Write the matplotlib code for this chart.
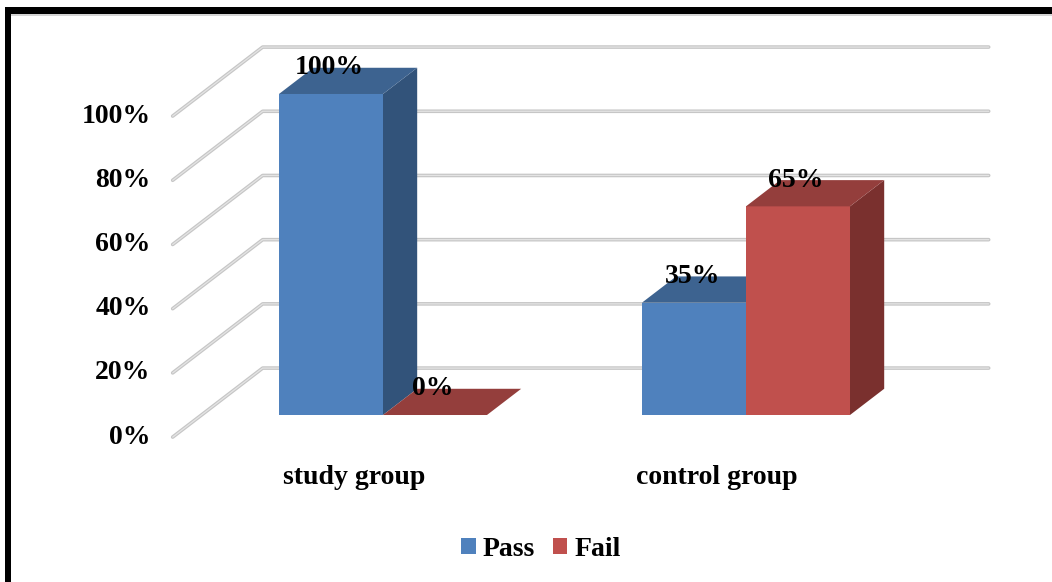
import matplotlib
matplotlib.use("Agg")
import matplotlib.pyplot as plt
from matplotlib.patches import Polygon, Patch, Rectangle

# ---- data ----
categories = ["study group", "control group"]
series_names = ["Pass", "Fail"]
pass_pct = [100, 35]
fail_pct = [0, 65]
y_ticks = [0, 20, 40, 60, 80, 100]
y_tick_labels = ["0%", "20%", "40%", "60%", "80%", "100%"]

# ---- styling ----
FONT = dict(family="Liberation Serif", weight="bold", size=20)
face_colors = {
    "Pass": ("#4F81BD", "#3D6390", "#32537A"),  # front, top, side
    "Fail": ("#C0504D", "#943E3C", "#7A302E"),
}

W, H = 1052, 582
fig = plt.figure(figsize=(W / 100, H / 100), dpi=100)
ax = fig.add_axes([0, 0, 1, 1])
ax.set_xlim(-1.055, 1.843)
ax.set_ylim(-52.02, 129.28)
ax.axis("off")

# oblique projection: depth d runs from floor front (0) to back wall (1)
DX, DY = 0.248, 21.5
D_FRONT, D_BACK = 0.32, 0.70
BAR_W = 0.2865


def proj(x, v, d):
    return (x + (d - D_FRONT) * DX, v + (d - D_FRONT) * DY)


# gridlines: diagonal on the side wall, then horizontal along the back wall
for v in y_ticks:
    pts = [proj(-0.5, v, 0), proj(-0.5, v, 1), proj(1.5, v, 1)]
    xs, ys = zip(*pts)
    ax.plot(xs, ys, color="#c6c6c6", lw=2.6, solid_capstyle="round", zorder=1)
    ax.plot(xs, ys, color="#e4e4e4", lw=0.9, solid_capstyle="round", zorder=1)

# tick labels at the front edge
for v, lab in zip(y_ticks, y_tick_labels):
    x, y = proj(-0.5, v, 0)
    ax.text(x - 22 / 363, y, lab, ha="right", va="center", **FONT)

# 3D bars
values = {"Pass": pass_pct, "Fail": fail_pct}
for i, cat in enumerate(categories):
    for s, name in enumerate(series_names):
        v = values[name][i]
        x0 = i - BAR_W + s * BAR_W
        x1 = x0 + BAR_W
        front_c, top_c, side_c = face_colors[name]
        z = 3 + i * 2 + s
        if v > 0:
            side = [proj(x1, 0, D_FRONT), proj(x1, 0, D_BACK),
                    proj(x1, v, D_BACK), proj(x1, v, D_FRONT)]
            front = [proj(x0, 0, D_FRONT), proj(x1, 0, D_FRONT),
                     proj(x1, v, D_FRONT), proj(x0, v, D_FRONT)]
            ax.add_patch(Polygon(side, closed=True, fc=side_c, ec="none", zorder=z))
            ax.add_patch(Polygon(front, closed=True, fc=front_c, ec="none", zorder=z))
        top = [proj(x0, v, D_FRONT), proj(x1, v, D_FRONT),
               proj(x1, v, D_BACK), proj(x0, v, D_BACK)]
        ax.add_patch(Polygon(top, closed=True, fc=top_c, ec="none", zorder=z))
        # value label: centred over the bar, at the height of the top's back edge
        _, ly = proj(0, v, D_BACK)
        ax.text((x0 + x1) / 2 - 0.005, ly, f"{v}%", ha="center", va="center",
                zorder=20, **FONT)

# category labels
for i, cat in enumerate(categories):
    x, y = proj(i, 0, 0)
    ax.text(x, y - 40 / 3.21, cat, ha="center", va="center", **FONT)

# legend
handles = [Patch(fc=face_colors[n][0], ec="none") for n in series_names]
fig.legend(handles, series_names, loc="center",
           bbox_to_anchor=(541 / W, 1 - 549 / H), ncol=2, frameon=False,
           prop=dict(family="Liberation Serif", weight="bold", size=20),
           handlelength=0.52, handleheight=0.52, handletextpad=0.25,
           columnspacing=0.65)

# outer frame (top and left edges)
fig.add_artist(Rectangle((5 / W, 1 - 14 / H), 1 - 5 / W, 6.7 / H,
                         transform=fig.transFigure, fc="black", ec="none"))
fig.add_artist(Rectangle((5 / W, 0), 6 / W, 1 - 7.3 / H,
                         transform=fig.transFigure, fc="black", ec="none"))
fig.add_artist(Rectangle((11 / W, 1 - 15.5 / H), 1 - 11 / W, 1.3 / H,
                         transform=fig.transFigure, fc="#d4d4d4", ec="none"))

fig.savefig("out.png", dpi=100)
